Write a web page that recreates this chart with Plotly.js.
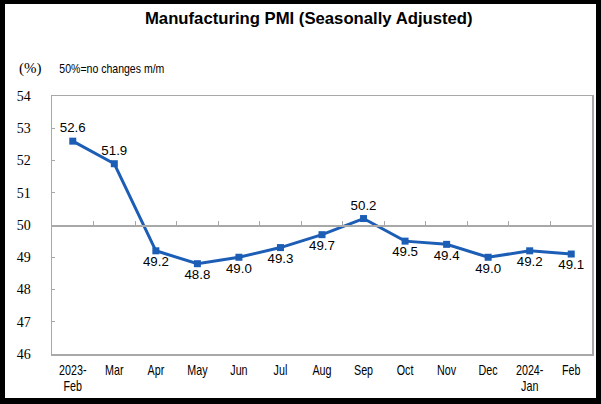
<!DOCTYPE html>
<html>
<head>
<meta charset="utf-8">
<script src="https://cdn.plot.ly/plotly-3.0.1.min.js"></script>
<style>
html, body { margin: 0; padding: 0; background: #000; width: 601px; height: 404px; overflow: hidden; }
#chart { position: absolute; left: 5px; top: 4px; width: 591px; height: 394px; background: #fff; }
</style>
</head>
<body>
<div id="chart"></div>
<script>
const months = ["2023-<br>Feb", "Mar", "Apr", "May", "Jun", "Jul", "Aug", "Sep", "Oct", "Nov", "Dec", "2024-<br>Jan", "Feb"];
const pmi = [52.6, 51.9, 49.2, 48.8, 49.0, 49.3, 49.7, 50.2, 49.5, 49.4, 49.0, 49.2, 49.1];
const pmiLabels = ["52.6", "51.9", "49.2", "48.8", "49.0", "49.3", "49.7", "50.2", "49.5", "49.4", "49.0", "49.2", "49.1"];
const yTicks = [46, 47, 48, 49, 50, 51, 52, 53, 54];
const boundaryTicks = [0.5, 1.5, 2.5, 3.5, 4.5, 5.5, 6.5, 7.5, 8.5, 9.5, 10.5, 11.5];
const titleText = "Manufacturing PMI (Seasonally Adjusted)";
const unitText = "(%)";
const noteText = "50%=no changes m/m";

const idx = months.map((_, i) => i);
const positions = pmi.map((v, i) => (i === 0 || i === 1 || i === 7) ? "top center" : "bottom center");

const traces = [
  {
    x: idx,
    y: pmi,
    type: "scatter",
    mode: "lines+markers+text",
    text: pmiLabels,
    textposition: positions,
    textfont: { family: "Liberation Sans, Arial, sans-serif", size: 13.3, color: "#000" },
    line: { color: "#1c5db5", width: 3 },
    marker: { symbol: "square", size: 7, color: "#1c5db5" },
    cliponaxis: false,
    hoverinfo: "skip",
    showlegend: false
  },
  {
    x: [],
    y: [],
    xaxis: "x2",
    yaxis: "y",
    type: "scatter",
    mode: "lines",
    showlegend: false,
    hoverinfo: "skip"
  }
];

const layout = {
  width: 591,
  height: 394,
  margin: { l: 47, r: 4, t: 92, b: 44 },
  paper_bgcolor: "#fff",
  plot_bgcolor: "#fff",
  showlegend: false,
  title: {
    text: "<b>" + titleText + "</b>",
    font: { family: "Liberation Sans, Arial, sans-serif", size: 16.7, color: "#000" },
    xref: "container",
    x: 0.514,
    xanchor: "center",
    yref: "container",
    y: 0.965,
    yanchor: "middle"
  },
  xaxis: {
    range: [-0.5, 12.5],
    tickvals: idx,
    ticktext: months,
    ticks: "",
    showgrid: false,
    zeroline: false,
    showline: true,
    mirror: true,
    linecolor: "#a8a8a8",
    linewidth: 1.5,
    ticklabelstandoff: 2,
    tickfont: { family: "Liberation Sans, Arial, sans-serif", size: 14.5, color: "#000" },
    fixedrange: true
  },
  xaxis2: {
    overlaying: "x",
    anchor: "free",
    position: 0.5,
    side: "bottom",
    range: [-0.5, 12.5],
    tickvals: boundaryTicks,
    ticks: "inside",
    ticklen: 4,
    tickcolor: "#a8a8a8",
    tickwidth: 1,
    showticklabels: false,
    showline: true,
    linecolor: "#a8a8a8",
    linewidth: 1.5,
    showgrid: false,
    zeroline: false,
    fixedrange: true
  },
  yaxis: {
    range: [46, 54],
    tickvals: yTicks,
    ticks: "inside",
    ticklen: 3,
    tickcolor: "#a8a8a8",
    showgrid: false,
    zeroline: false,
    showline: true,
    mirror: true,
    linecolor: "#a8a8a8",
    linewidth: 1.5,
    ticklabelstandoff: 17,
    tickfont: { family: "Liberation Serif, Times New Roman, serif", size: 14, color: "#000" },
    fixedrange: true
  },
  annotations: [
    {
      text: unitText,
      xref: "paper", yref: "paper",
      x: -0.0407, y: 1.0 + 27.5 / 258,
      xanchor: "center", yanchor: "middle",
      showarrow: false,
      font: { family: "Liberation Serif, Times New Roman, serif", size: 15, color: "#000" }
    },
    {
      text: noteText,
      xref: "paper", yref: "paper",
      x: 0.112, y: 1.0 + 27.5 / 258,
      xanchor: "center", yanchor: "middle",
      showarrow: false,
      font: { family: "Liberation Sans, Arial, sans-serif", size: 13, color: "#000" }
    }
  ]
};

function condense(el, factor, lineGap) {
  const lines = el.querySelectorAll("tspan.line");
  const targets = lines.length ? Array.from(lines) : [el];
  targets.forEach((t, i) => {
    const w = t.getComputedTextLength();
    if (w > 0) {
      t.setAttribute("textLength", (w * factor).toFixed(2));
      t.setAttribute("lengthAdjust", "spacingAndGlyphs");
    }
    if (lineGap && i > 0) t.setAttribute("dy", lineGap);
  });
}

Plotly.newPlot("chart", traces, layout, { staticPlot: true, displayModeBar: false }).then(gd => {
  gd.querySelectorAll(".xtick text").forEach(t => condense(t, 0.74, "16.5"));
  const ann = gd.querySelectorAll(".annotation-text");
  if (ann.length > 1) condense(ann[1], 0.81);
});
</script>
</body>
</html>
